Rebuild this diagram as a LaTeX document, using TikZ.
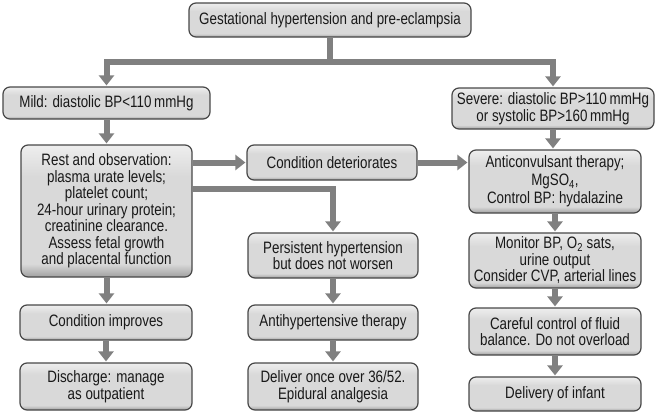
\documentclass[tikz,border=0pt]{standalone}
\usepackage{fontspec}
\setmainfont{Liberation Sans}[FakeStretch=0.81]
\usetikzlibrary{arrows.meta}
\definecolor{arrgray}{RGB}{128,128,128}
\definecolor{boxedge}{RGB}{72,72,72}
\definecolor{btop}{RGB}{238,238,238}
\definecolor{bmid}{RGB}{217,217,217}
\definecolor{bbot}{RGB}{160,160,160}
\definecolor{txt}{RGB}{25,25,25}
\pgfdeclareverticalshading{boxshade}{100bp}{color(0bp)=(bbot); color(25bp)=(bbot); color(30bp)=(bmid); color(63bp)=(bmid); color(75bp)=(btop); color(100bp)=(btop)}
\begin{document}
\begin{tikzpicture}[x=1pt,y=-1pt,
 box/.style={draw=boxedge, line width=1.2pt, rounded corners=7pt,
   shading=boxshade,
   align=center, inner sep=0pt, text=txt,
   font=\fontsize{16.5}{16.5}\selectfont},
 arr/.style={draw=arrgray, line width=6pt, -{Triangle[width=15pt,length=10pt]}, shorten >=1pt}]
\useasboundingbox (0,0) rectangle (661,413);

\node[box, minimum width=282pt, minimum height=34pt] (top) at (330,20) {Gestational hypertension and pre-eclampsia};
\node[box, minimum width=207pt, minimum height=32pt] (mild) at (106.5,103) {Mild: diastolic BP<110\,mmHg};
\node[box, minimum width=202pt, minimum height=41pt] (severe) at (553,108.5) {Severe: diastolic BP>110\,mmHg\\or systolic BP>160\,mmHg};
\node[box, minimum width=171pt, minimum height=132pt] (rest) at (106.5,211) {Rest and observation:\\plasma urate levels;\\platelet count;\\24-hour urinary protein;\\creatinine clearance.\\Assess fetal growth\\and placental function};
\node[box, minimum width=170pt, minimum height=35pt] (det) at (332,162.5) {Condition deteriorates};
\node[box, minimum width=172pt, minimum height=63pt, font=\fontsize{16.5}{18}\selectfont] (anti) at (555,181.5) {Anticonvulsant therapy;\\MgSO\textsubscript{4},\\Control BP: hydalazine};
\node[box, minimum width=170pt, minimum height=45pt] (pers) at (333,255.5) {Persistent hypertension\\but does not worsen};
\node[box, minimum width=172pt, minimum height=55pt] (mon) at (555,260.5) {Monitor BP, O\textsubscript{2} sats,\\urine output\\Consider CVP, arterial lines};
\node[box, minimum width=172pt, minimum height=35pt] (imp) at (106,322.5) {Condition improves};
\node[box, minimum width=170pt, minimum height=35pt] (antih) at (333,322.5) {Antihypertensive therapy};
\node[box, minimum width=172pt, minimum height=47pt] (care) at (555,331.5) {Careful control of fluid\\balance. Do not overload};
\node[box, minimum width=172pt, minimum height=47pt] (dis) at (106,386.5) {Discharge: manage\\as outpatient};
\node[box, minimum width=170pt, minimum height=47pt] (del) at (333,386.5) {Deliver once over 36/52.\\Epidural analgesia};
\node[box, minimum width=172pt, minimum height=34pt] (inf) at (555,394) {Delivery of infant};

\coordinate (j) at (330,62);
\draw[arr] (top.south) -- (j) -| (mild.north);
\draw[arr] (j) -| (severe.north);
\draw[arr] (mild.south) -- (mild.south |- rest.north);
\draw[arr] (rest.east |- det.west) -- (det.west);
\coordinate (b) at (192,189);
\draw[arr] (b) -| (pers.north);
\draw[arr] (det.east) -- (det.east -| anti.west);
\draw[arr] (severe.south) -- (severe.south |- anti.north);
\draw[arr] (rest.south) -- (rest.south |- imp.north);
\draw[arr] (imp.south) -- (imp.south |- dis.north);
\draw[arr] (pers.south) -- (pers.south |- antih.north);
\draw[arr] (antih.south) -- (antih.south |- del.north);
\draw[arr] (anti.south) -- (anti.south |- mon.north);
\draw[arr] (mon.south) -- (mon.south |- care.north);
\draw[arr] (care.south) -- (care.south |- inf.north);
\end{tikzpicture}
\end{document}
